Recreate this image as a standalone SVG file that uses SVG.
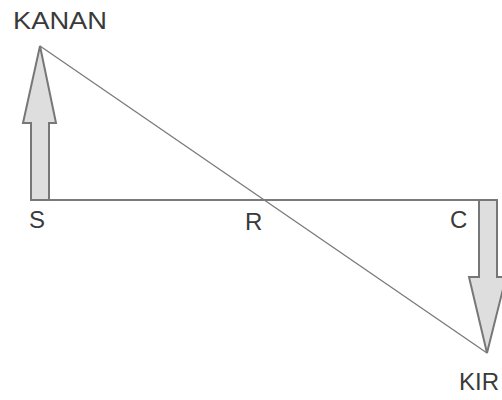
<svg xmlns="http://www.w3.org/2000/svg" width="502" height="400" viewBox="0 0 502 400">
<style>
.lbl{font-family:"Liberation Sans",Arial,sans-serif;font-size:24px;fill:#3a3a3a}
.arr{fill:#dedede;stroke:#777;stroke-width:2;stroke-linejoin:miter}
.ln{stroke:#7a7a7a;fill:none}
</style>
<rect width="502" height="400" fill="#fff"/>
<g id="connectors">
<line class="ln" x1="31" y1="200" x2="497" y2="200" stroke-width="2.2"/>
<line class="ln" x1="40" y1="46" x2="487" y2="353" stroke-width="1.3"/>
</g>
<g id="arrow-kanan">
<polygon class="arr" points="31,200 49,200 49,123 56,123 40,46 23,123 31,123"/>
</g>
<g id="arrow-kiri">
<polygon class="arr" points="479,200 497,200 497,277 506,277 487,353 469,277 479,277"/>
</g>
<g id="label-kanan"><text class="lbl" x="13" y="29" textLength="94" lengthAdjust="spacingAndGlyphs">KANAN</text></g>
<g id="label-s"><text class="lbl" x="29" y="228">S</text></g>
<g id="label-r"><text class="lbl" x="245" y="230">R</text></g>
<g id="label-c"><text class="lbl" x="450" y="228">C</text></g>
<g id="label-kiri"><text class="lbl" x="459" y="390">KIR</text></g>
</svg>
